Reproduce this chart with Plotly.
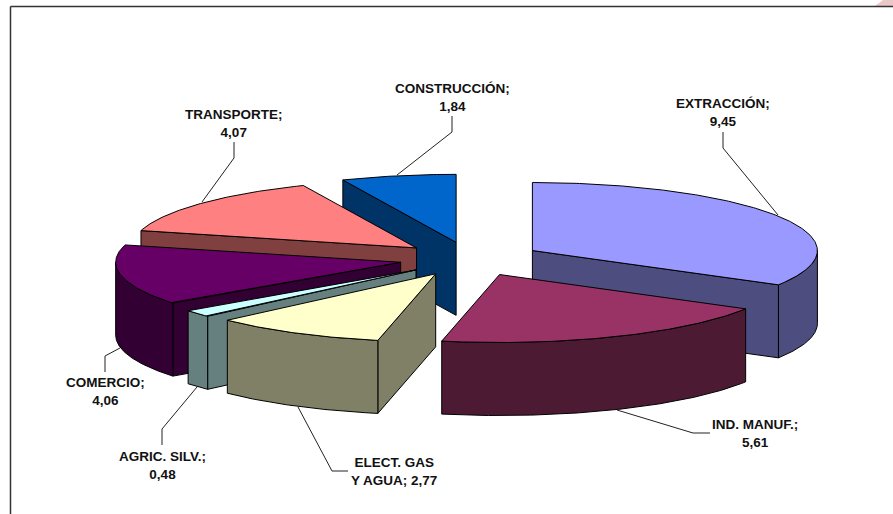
import numpy as np
import plotly.graph_objects as go

# --- data
categories = ["EXTRACCIÓN", "IND. MANUF.", "ELECT. GAS Y AGUA", "AGRIC. SILV.",
              "COMERCIO", "TRANSPORTE", "CONSTRUCCIÓN"]
values = [9.45, 5.61, 2.77, 0.48, 4.06, 4.07, 1.84]
label_texts = ["EXTRACCIÓN;<br>9,45", "IND. MANUF.;<br>5,61", "ELECT. GAS<br>Y AGUA; 2,77",
               "AGRIC. SILV.;<br>0,48", "COMERCIO;<br>4,06", "TRANSPORTE;<br>4,07",
               "CONSTRUCCIÓN;<br>1,84"]

# --- style / layout
top_colors = ["#9999FF", "#993366", "#FFFFCC", "#CCFFFF", "#660066", "#FF8080", "#0066CC"]
wall_colors = ["#4D4D80", "#4D1A33", "#808066", "#668080", "#330033", "#804040", "#003366"]
paint_order = [0, 6, 5, 4, 3, 2, 1]
label_xy = [(723, 112), (755, 433), (393.5, 471), (162, 465), (105, 391), (234, 123), (452, 97.5)]
leaders = [
    [(723, 132), (723, 148), (778, 215)],
    [(710, 433), (693, 433), (617, 410)],
    [(348, 471), (332, 471), (298, 407)],
    [(162, 445), (162, 429), (197, 387)],
    [(105, 372), (105, 356), (120, 348)],
    [(234, 142), (234, 158), (202, 202)],
    [(452, 116), (452, 132), (397, 175)],
]
CX, CY = 470.6, 259.0   # pie centre, pixels
RX, RY = 285.0, 68.0    # ellipse radii
DEPTH = 73.0
EXPLODE = 0.25


def arc(ax, ay, a0, a1):
    t = np.radians(np.linspace(a0, a1, max(2, int(abs(a1 - a0) * 2) + 2)))
    return ax + RX * np.sin(t), ay - RY * np.cos(t)


fig = go.Figure()


def poly(xs, ys, color):
    fig.add_trace(go.Scatter(x=np.r_[xs, xs[0]], y=np.r_[ys, ys[0]], mode="lines", fill="toself",
                             fillcolor=color, line=dict(color="#000000", width=1),
                             hoverinfo="skip", showlegend=False))


scale = 360.0 / sum(values)
edges = np.r_[0.0, np.cumsum(values)] * scale

for i in paint_order:
    a0, a1 = edges[i], edges[i + 1]
    mid = np.radians((a0 + a1) / 2)
    ax = CX + EXPLODE * RX * np.sin(mid)
    ay = CY - EXPLODE * RY * np.cos(mid)
    wall = wall_colors[i]

    # radial faces that look towards the viewer
    for a, visible in ((a0, np.sin(np.radians(a0)) < -1e-6), (a1, np.sin(np.radians(a1)) > 1e-6)):
        if visible:
            ex, ey = arc(ax, ay, a, a)
            ex, ey = ex[0], ey[0]
            poly(np.array([ax, ex, ex, ax]), np.array([ay, ey, ey + DEPTH, ay + DEPTH]), wall)

    # outer curved wall (front half of the ellipse only)
    f0, f1 = max(a0, 90.0), min(a1, 270.0)
    if f1 > f0:
        xs, ys = arc(ax, ay, f0, f1)
        poly(np.r_[xs, xs[::-1]], np.r_[ys, ys[::-1] + DEPTH], wall)

    # top face
    xs, ys = arc(ax, ay, a0, a1)
    poly(np.r_[ax, xs], np.r_[ay, ys], top_colors[i])

# leader lines
for pts in leaders:
    fig.add_trace(go.Scatter(x=[p[0] for p in pts], y=[p[1] for p in pts], mode="lines",
                             line=dict(color="#222222", width=1), hoverinfo="skip", showlegend=False))

annotations = [dict(x=x, y=y, text="<b>%s</b>" % t, showarrow=False, xref="x", yref="y",
                    align="center", xanchor="center", yanchor="middle",
                    font=dict(family="Liberation Sans", size=13.5, color="#111111"))
               for t, (x, y) in zip(label_texts, label_xy)]

shapes = [
    dict(type="path", path="M 875 6 L 883 0 L 893 0 L 893 6 Z", fillcolor="#EBC8C8",
         line=dict(width=0), xref="x", yref="y", layer="below"),
    dict(type="line", x0=10.5, y0=6.5, x1=893, y1=6.5, xref="x", yref="y",
         line=dict(color="#333333", width=1.5)),
    dict(type="line", x0=10.5, y0=6.5, x1=10.5, y1=514, xref="x", yref="y",
         line=dict(color="#333333", width=1.5)),
]

fig.update_layout(
    width=893, height=514, margin=dict(l=0, r=0, t=0, b=0),
    paper_bgcolor="white", plot_bgcolor="white", showlegend=False,
    xaxis=dict(range=[0, 893], visible=False, fixedrange=True),
    yaxis=dict(range=[514, 0], visible=False, fixedrange=True),
    annotations=annotations, shapes=shapes,
)
fig.write_html("out.html", config=dict(displayModeBar=False),
               post_script="document.body.style.margin='0';document.body.style.overflow='hidden';")
